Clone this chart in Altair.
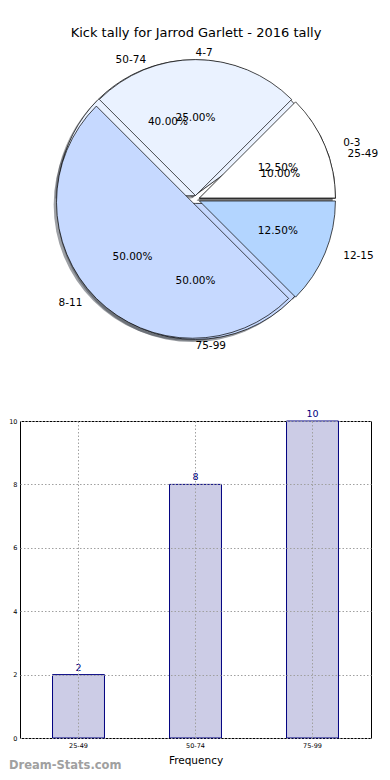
import math
import altair as alt
import pandas as pd

title_text = "Kick tally for Jarrod Garlett - 2016 tally"
pie1_labels = ["0-3", "4-7", "8-11", "12-15"]
pie1_values = [1, 2, 4, 1]
pie2_labels = ["25-49", "50-74", "75-99"]
pie2_values = [2, 8, 10]
wedge_colors = ["#ffffff", "#eaf2ff", "#c6d9ff", "#b3d5ff"]
bar_labels = ["25-49", "50-74", "75-99"]
bar_values = [2, 8, 10]

EXPLODE = 0.03
LABEL_DIST = 1.1
PCT_DIST = 0.6
SHADOW = 0.02


def shade(hexcol):
    r, g, b = (int(hexcol[i:i + 2], 16) for i in (1, 3, 5))
    return "#%02x%02x%02x" % (int(r * 0.3), int(g * 0.3), int(b * 0.3))


def pie_rows(labels, values, group):
    total = sum(values)
    rows = []
    start = 0.0
    for i, (lab, v) in enumerate(zip(labels, values)):
        frac = v / total
        a0 = start * 2 * math.pi
        a1 = (start + frac) * 2 * math.pi
        start += frac
        mid = (a0 + a1) / 2
        c, s = math.cos(mid), math.sin(mid)
        ox, oy = EXPLODE * c, EXPLODE * s
        rows.append(dict(
            group=group, label=lab, pct="%.2f%%" % (frac * 100),
            t0=math.pi / 2 - a0, t1=math.pi / 2 - a1,
            ox=ox, oy=oy, sx=ox - SHADOW, sy=oy - SHADOW,
            lx=ox + LABEL_DIST * c, ly=oy + LABEL_DIST * s,
            px=ox + PCT_DIST * c, py=oy + PCT_DIST * s,
            side="left" if c > -1e-9 else "right",
            color=wedge_colors[i % len(wedge_colors)],
            scolor=shade(wedge_colors[i % len(wedge_colors)]),
        ))
    return rows


# second pie (ranges) drawn first, first pie (tallies) on top
pie_df = pd.DataFrame(pie_rows(pie2_labels, pie2_values, 2) + pie_rows(pie1_labels, pie1_values, 1))

PW, PH = 352, 320
CX, CY = 175.5, 157.5
RX, RY = 141.5, 130.0
xs = alt.Scale(domain=[-CX / RX, (PW - CX) / RX], nice=False, zero=False)
ys = alt.Scale(domain=[-(PH - CY) / RY, CY / RY], nice=False, zero=False)

pbase = alt.Chart(pie_df)

shadows = pbase.mark_arc(radius=136, opacity=0.5).encode(
    x=alt.X("sx:Q", scale=xs, axis=None),
    y=alt.Y("sy:Q", scale=ys, axis=None),
    theta=alt.Theta("t0:Q", scale=None, stack=None),
    theta2="t1:Q",
    fill=alt.Fill("scolor:N", scale=None),
)
wedges = pbase.mark_arc(radius=136, stroke="black", strokeWidth=0.7).encode(
    x=alt.X("ox:Q", scale=xs, axis=None),
    y=alt.Y("oy:Q", scale=ys, axis=None),
    theta=alt.Theta("t0:Q", scale=None, stack=None),
    theta2="t1:Q",
    fill=alt.Fill("color:N", scale=None),
)
lab_left = pbase.transform_filter(alt.datum.side == "left").mark_text(
    align="left", baseline="middle", fontSize=10.5, color="black").encode(
    x=alt.X("lx:Q", scale=xs, axis=None), y=alt.Y("ly:Q", scale=ys, axis=None), text="label:N")
lab_right = pbase.transform_filter(alt.datum.side == "right").mark_text(
    align="right", baseline="middle", fontSize=10.5, color="black").encode(
    x=alt.X("lx:Q", scale=xs, axis=None), y=alt.Y("ly:Q", scale=ys, axis=None), text="label:N")
pcts = pbase.mark_text(align="center", baseline="middle", fontSize=10.5, color="black").encode(
    x=alt.X("px:Q", scale=xs, axis=None), y=alt.Y("py:Q", scale=ys, axis=None), text="pct:N")

pie = alt.layer(shadows, wedges, lab_left, lab_right, pcts).properties(
    width=PW, height=PH,
    view=alt.ViewBackground(stroke="transparent"),
    title=alt.TitleParams(title_text, fontSize=13, fontWeight="normal", anchor="middle",
                          offset=2, color="black"),
)

bar_df = pd.DataFrame({"range": bar_labels, "count": bar_values})
grid_kw = dict(grid=True, gridDash=[1.5, 2], gridColor="#a0a0a0", gridWidth=1, ticks=False,
               domain=False, zindex=1)
bbase = alt.Chart(bar_df).encode(
    x=alt.X("range:N", sort=bar_labels,
            scale=alt.Scale(paddingInner=0.556, paddingOuter=0.278),
            axis=alt.Axis(title="Frequency", labelAngle=0, labelFontSize=6.5, labelPadding=4,
                          titleFontSize=10.5, titleFontWeight="normal", titlePadding=7,
                          bandPosition=0.5, labelColor="black", titleColor="black", **grid_kw)),
    y=alt.Y("count:Q", scale=alt.Scale(domain=[0, 10], nice=False),
            axis=alt.Axis(title=None, values=[0, 2, 4, 6, 8, 10], labelFontSize=6.5,
                          labelPadding=3, labelColor="black", **grid_kw)),
)
bars = bbase.mark_bar(fill="#ccccE6", stroke="#000080", strokeWidth=1)
vals = bbase.mark_text(baseline="bottom", dy=-2, fontSize=9.5, color="#000080").encode(text="count:Q")

bar = alt.layer(bars, vals).properties(
    width=351, height=317,
    title=alt.TitleParams("Dream-Stats.com", orient="bottom", anchor="start", frame="group",
                          dx=-11, offset=-6, fontSize=11.5, fontWeight="bold", color="#a0a0a0"),
)

chart = alt.vconcat(pie, bar, spacing=59, bounds="flush").properties(
    padding={"left": 0, "top": 18, "right": 0, "bottom": 0}
).configure(font="DejaVu Sans").configure_view(stroke="black", strokeWidth=1)

chart.save("out.html", embed_options={"renderer": "svg", "actions": False})
